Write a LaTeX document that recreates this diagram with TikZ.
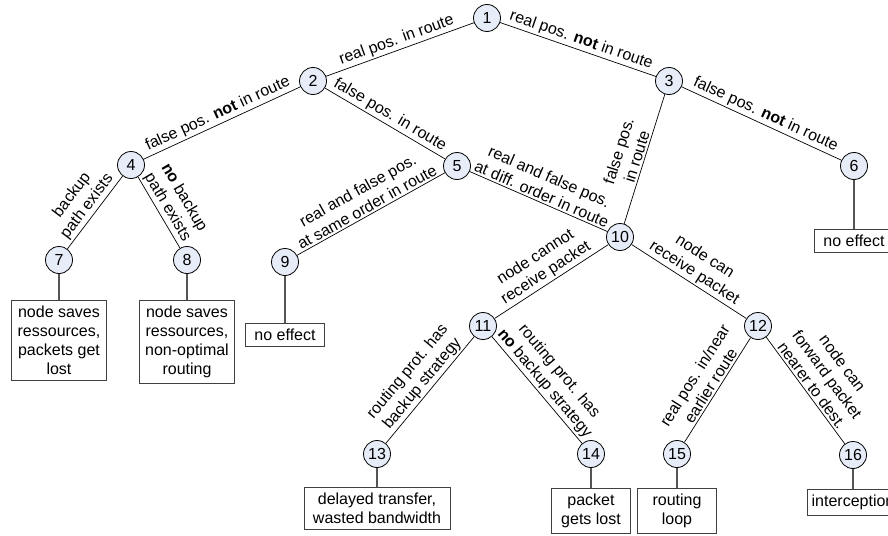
\documentclass[tikz,border=0pt]{standalone}
\usepackage{fontspec}
\setmainfont{Liberation Sans}
\usepackage{tikz}
\usetikzlibrary{positioning}

\definecolor{nodefill}{RGB}{230,236,248}
\definecolor{stemgray}{RGB}{85,85,85}
\definecolor{boxgray}{RGB}{64,64,64}

\begin{document}
\begin{tikzpicture}[x=1pt,y=-1pt,font=\fontsize{16}{19}\selectfont]
		\tikzstyle{decision}=[circle, draw=black, fill=nodefill, minimum size=27pt, inner sep=0pt, line width=0.8pt]
		\tikzstyle{outcome}=[rectangle, draw=boxgray, fill=white, align=center, inner xsep=4pt, inner ysep=5.5pt, minimum width=#1, line width=0.8pt]
		\tikzstyle{cond}=[sloped, above, align=center, inner sep=2pt]
		\tikzstyle{link}=[line width=0.7pt]
		\tikzstyle{stem}=[draw=stemgray, line width=1.3pt]

		\useasboundingbox (0,0) rectangle (888,535);

		% decision points
		\node [decision] (n1)  at (487,18)  {1};
		\node [decision] (n2)  at (313,81)  {2};
		\node [decision] (n3)  at (669,81)  {3};
		\node [decision] (n4)  at (131,165) {4};
		\node [decision] (n5)  at (457,166) {5};
		\node [decision] (n6)  at (854,166) {6};
		\node [decision] (n7)  at (59,260)  {7};
		\node [decision] (n8)  at (187,260) {8};
		\node [decision] (n9)  at (285,262) {9};
		\node [decision] (n10) at (620,237) {10};
		\node [decision] (n11) at (483,326) {11};
		\node [decision] (n12) at (758,326) {12};
		\node [decision] (n13) at (377,454) {13};
		\node [decision] (n14) at (591,454) {14};
		\node [decision] (n15) at (677,454) {15};
		\node [decision] (n16) at (853,455) {16};

		% outcomes
		\node [outcome=95pt, below=26pt of n7]   (r7)  {node saves\\ressources,\\packets get\\lost};
		\node [outcome=95pt, below=26pt of n8]   (r8)  {node saves\\ressources,\\non-optimal\\routing};
		\node [outcome=79pt, below=47pt of n9]   (r9)  {no effect};
		\node [outcome=79pt, below=49pt of n6]   (r6)  {no effect};
		\node [outcome=146pt, below=19.5pt of n13] (r13) {delayed transfer,\\wasted bandwidth};
		\node [outcome=79pt, below=20.5pt of n14] (r14) {packet\\gets lost};
		\node [outcome=79pt, below=20.5pt of n15] (r15) {routing\\loop};
		\node [outcome=92pt, below=20.5pt of n16] (r16) {interception};

		\draw [link] (n1) -- node[cond] {real pos. in route} (n2);
		\draw [link] (n1) -- node[cond] {real pos. \textbf{not} in route} (n3);
		\draw [link] (n2) -- node[cond] {false pos. \textbf{not} in route} (n4);
		\draw [link] (n2) -- node[cond] {false pos. in route} (n5);
		\draw [link] (n3) -- node[cond] {false pos. \textbf{not} in route} (n6);
		\draw [link] (n3) -- node[cond] {false pos.\\in route} (n10);
		\draw [link] (n4) -- node[cond] {backup\\path exists} (n7);
		\draw [link] (n4) -- node[cond] {\textbf{no} backup\\path exists} (n8);
		\draw [link] (n5) -- node[cond] {real and false pos.\\at same order in route} (n9);
		\draw [link] (n5) -- node[cond] {real and false pos.\\at diff. order in route} (n10);
		\draw [link] (n10) -- node[cond] {node cannot\\receive packet} (n11);
		\draw [link] (n10) -- node[cond] {node can\\receive packet} (n12);
		\draw [link] (n11) -- node[cond] {routing prot. has\\backup strategy} (n13);
		\draw [link] (n11) -- node[cond] {routing prot. has\\\textbf{no} backup strategy} (n14);
		\draw [link] (n12) -- node[cond] {real pos. in/near\\earlier route} (n15);
		\draw [link] (n12) -- node[cond] {node can\\forward packet\\nearer to dest.} (n16);

		% stems to outcomes
		\foreach \i in {6,7,8,9,13,14,15,16}
			\draw [stem] (n\i) -- (r\i);
	\end{tikzpicture}
\end{document}
